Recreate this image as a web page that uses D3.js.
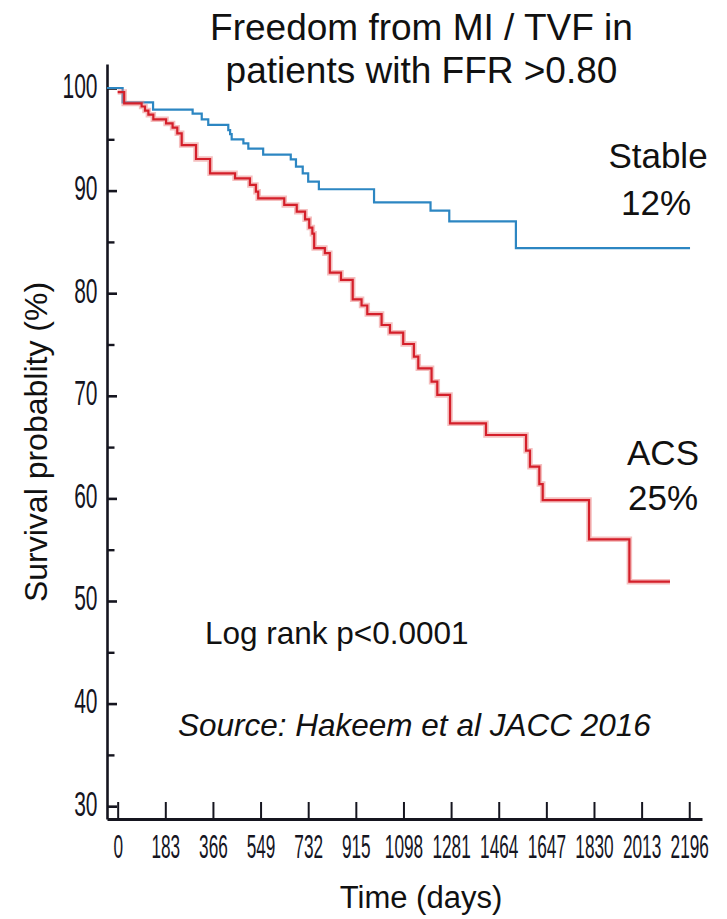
<!DOCTYPE html>
<html>
<head>
<meta charset="utf-8">
<script src="https://cdn.jsdelivr.net/npm/d3@7"></script>
<style>
  html, body { margin: 0; padding: 0; background: #fff; }
  svg { display: block; font-family: "Liberation Sans", Arial, sans-serif; }
</style>
</head>
<body>
<svg id="chart" width="727" height="919"></svg>
<script>
// Tick values
const xTickValues = [0, 183, 366, 549, 732, 915, 1098, 1281, 1464, 1647, 1830, 2013, 2196];
const yMajorTicks = [30, 40, 50, 60, 70, 80, 90, 100];
const yMinorTicks = [35, 45, 55, 65, 75, 85, 95];

// Kaplan-Meier steps: day of each event and survival (%) after it
const stableDays = [-41, 19, 136, 288, 323, 348, 425, 432, 438, 483, 502, 559, 665, 685, 711, 732, 773, 985, 1202, 1274, 1530, 2199];
const stableSurvival = [100, 98.6, 97.9, 97.5, 96.95, 96.4, 95.9, 95.5, 95.0, 94.6, 94.1, 93.5, 93.05, 92.33, 91.68, 90.87, 90.13, 88.86, 88.04, 87.0, 84.4, 84.4];

const acsDays = [0, 25, 92, 105, 118, 137, 186, 211, 229, 246, 301, 355, 451, 508, 531, 540, 640, 688, 720, 736, 748, 755, 796, 815, 858, 903, 937, 959, 1014, 1046, 1097, 1138, 1155, 1206, 1228, 1277, 1415, 1569, 1584, 1620, 1633, 1811, 1966, 2122];
const acsSurvival = [99.6, 98.5, 98.2, 97.8, 97.4, 96.95, 96.55, 96.13, 95.58, 94.44, 93.08, 91.68, 91.2, 90.55, 89.9, 89.25, 88.6, 87.95, 87.2, 86.4, 85.8, 84.4, 83.9, 82.0, 81.3, 79.4, 78.8, 77.97, 76.9, 76.15, 75.05, 73.81, 72.68, 71.38, 70.08, 67.32, 66.18, 64.65, 63.09, 61.4, 59.84, 56.01, 51.88, 51.88];

const svg = d3.select("#chart");
const ink = "#15151f";

const x = d3.scaleLinear().domain([-41, 2245]).range([107, 702]);
const y = d3.scaleLinear().domain([28.75, 102.34]).range([819, 64]);

// Y axis: ticks pointing inward, condensed labels
const gy = svg.append("g").attr("transform", "translate(107,0)")
  .call(d3.axisLeft(y).tickValues(yMajorTicks).tickSize(-10).tickSizeOuter(0).tickFormat(""));
gy.select(".domain").attr("stroke", ink).attr("stroke-width", 2.6);
gy.selectAll(".tick line").attr("stroke", ink).attr("stroke-width", 2.6);
gy.selectAll(".tick text").remove();
gy.selectAll(".tick").append("text")
  .attr("transform", "translate(-9.5,9) scale(0.6,1)")
  .attr("text-anchor", "end")
  .attr("fill", ink)
  .attr("font-size", 35)
  .text(d => d3.format("d")(d));

const gyMinor = svg.append("g").attr("transform", "translate(107,0)")
  .call(d3.axisLeft(y).tickValues(yMinorTicks).tickSize(-7.5).tickSizeOuter(0).tickFormat(""));
gyMinor.select(".domain").remove();
gyMinor.selectAll(".tick text").remove();
gyMinor.selectAll(".tick line").attr("stroke", ink).attr("stroke-width", 2.4);

// X axis: ticks pointing up
const gx = svg.append("g").attr("transform", "translate(0,819)")
  .call(d3.axisBottom(x).tickValues(xTickValues).tickSize(-17).tickSizeOuter(0).tickFormat(""));
gx.select(".domain").attr("stroke", ink).attr("stroke-width", 2.8);
gx.selectAll(".tick line").attr("stroke", ink).attr("stroke-width", 2);
gx.selectAll(".tick text").remove();
gx.selectAll(".tick").append("text")
  .attr("transform", "translate(0,39) scale(0.53,1)")
  .attr("text-anchor", "middle")
  .attr("fill", ink)
  .attr("font-size", 32.5)
  .text(d => d3.format("d")(d));

// Survival curves
const stepLine = d3.line()
  .x(d => x(d[0]))
  .y(d => y(d[1]))
  .curve(d3.curveStepAfter);

const stableData = d3.zip(stableDays, stableSurvival);
const acsData = d3.zip(acsDays, acsSurvival);

svg.append("path").datum(stableData)
  .attr("d", stepLine).attr("fill", "none")
  .attr("stroke", "#2c86c2").attr("stroke-width", 2.2);

svg.append("path").datum(acsData)
  .attr("d", stepLine).attr("fill", "none")
  .attr("stroke", "#ec7f7f").attr("stroke-opacity", 0.5).attr("stroke-width", 5.5);

svg.append("path").datum(acsData)
  .attr("d", stepLine).attr("fill", "none")
  .attr("stroke", "#d41f2a").attr("stroke-width", 2.2);

// Titles and annotations
const title = svg.append("g").attr("fill", "#111").attr("font-size", 37);
title.append("text").attr("x", 421.5).attr("y", 40).attr("text-anchor", "middle").text("Freedom from MI / TVF in");
title.append("text").attr("x", 421.5).attr("y", 82.5).attr("text-anchor", "middle").text("patients with FFR >0.80");

const labels = svg.append("g").attr("fill", "#111").attr("font-size", 35).attr("text-anchor", "middle");
labels.append("text").attr("x", 658).attr("y", 168).text("Stable");
labels.append("text").attr("x", 656).attr("y", 215).text("12%");
labels.append("text").attr("x", 663).attr("y", 465).text("ACS");
labels.append("text").attr("x", 663).attr("y", 510).text("25%");

svg.append("text").attr("x", 205).attr("y", 644).attr("fill", "#111")
  .attr("font-size", 31.5).text("Log rank p<0.0001");

svg.append("text").attr("x", 178).attr("y", 736).attr("fill", "#111")
  .attr("font-size", 31.5).attr("font-style", "italic")
  .text("Source: Hakeem et al JACC 2016");

svg.append("text").attr("transform", "translate(47,442) rotate(-90)")
  .attr("text-anchor", "middle").attr("fill", "#111")
  .attr("font-size", 32).text("Survival probablity (%)");

svg.append("text").attr("x", 421).attr("y", 908)
  .attr("text-anchor", "middle").attr("fill", "#111")
  .attr("font-size", 31).text("Time (days)");
</script>
</body>
</html>
